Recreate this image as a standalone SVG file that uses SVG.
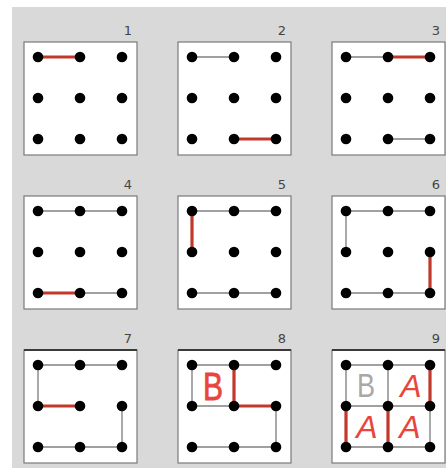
<svg xmlns="http://www.w3.org/2000/svg" xmlns:xlink="http://www.w3.org/1999/xlink" width="446" height="468" viewBox="0 0 446 468">
<style>
.bg{fill:#d9d9d9}
.box{fill:#fff;stroke:#7a7a7a;stroke-width:1.2}
.topdark{stroke:#3a3a3a;stroke-width:2}
.num{font-family:"DejaVu Sans",sans-serif;font-size:13px;fill:#444;text-anchor:end}
.g{stroke:#a0a0a0;stroke-width:1.8;fill:none}
.r{stroke:#c0392b;stroke-width:3.2;fill:none}
.dot{fill:#000}
.ltr{font-family:"Liberation Sans",Arial,sans-serif;text-anchor:middle}
.bred{fill:#e8453c;font-size:39px;stroke:#e8453c;stroke-width:0.8}
.bgray{fill:#a8a8a8;font-size:33px}
.a{fill:#e8453c;font-size:32px;font-style:italic}
</style>
<defs>
<g id="grid">
<circle class="dot" cx="14" cy="15" r="5.3"/><circle class="dot" cx="56" cy="15" r="5.3"/><circle class="dot" cx="98" cy="15" r="5.3"/>
<circle class="dot" cx="14" cy="56" r="5.3"/><circle class="dot" cx="56" cy="56" r="5.3"/><circle class="dot" cx="98" cy="56" r="5.3"/>
<circle class="dot" cx="14" cy="97" r="5.3"/><circle class="dot" cx="56" cy="97" r="5.3"/><circle class="dot" cx="98" cy="97" r="5.3"/>
</g>
</defs>
<rect class="bg" x="12" y="7" width="434" height="461"/>

<g id="panel1" transform="translate(24,42)">
<rect class="box" x="0" y="0" width="113" height="113"/>
<text class="num" x="108" y="-7">1</text>
<g class="edges"><path class="r" d="M14 15H56"/></g>
<use xlink:href="#grid" href="#grid"/>
</g>

<g id="panel2" transform="translate(178,42)">
<rect class="box" x="0" y="0" width="113" height="113"/>
<text class="num" x="108" y="-7">2</text>
<g class="edges"><path class="g" d="M14 15H56"/><path class="r" d="M56 97H98"/></g>
<use xlink:href="#grid" href="#grid"/>
</g>

<g id="panel3" transform="translate(332,42)">
<rect class="box" x="0" y="0" width="113" height="113"/>
<text class="num" x="108" y="-7">3</text>
<g class="edges"><path class="g" d="M14 15H56M56 97H98"/><path class="r" d="M56 15H98"/></g>
<use xlink:href="#grid" href="#grid"/>
</g>

<g id="panel4" transform="translate(24,196)">
<rect class="box" x="0" y="0" width="113" height="113"/>
<text class="num" x="108" y="-7">4</text>
<g class="edges"><path class="g" d="M14 15H98M56 97H98"/><path class="r" d="M14 97H56"/></g>
<use xlink:href="#grid" href="#grid"/>
</g>

<g id="panel5" transform="translate(178,196)">
<rect class="box" x="0" y="0" width="113" height="113"/>
<text class="num" x="108" y="-7">5</text>
<g class="edges"><path class="g" d="M14 15H98M14 97H98"/><path class="r" d="M14 15V56"/></g>
<use xlink:href="#grid" href="#grid"/>
</g>

<g id="panel6" transform="translate(332,196)">
<rect class="box" x="0" y="0" width="113" height="113"/>
<text class="num" x="108" y="-7">6</text>
<g class="edges"><path class="g" d="M14 15H98M14 15V56M14 97H98"/><path class="r" d="M98 56V97"/></g>
<use xlink:href="#grid" href="#grid"/>
</g>

<g id="panel7" transform="translate(24,350)">
<rect class="box" x="0" y="0" width="113" height="113"/>
<line class="topdark" x1="0" y1="0" x2="113" y2="0"/>
<text class="num" x="108" y="-7">7</text>
<g class="edges"><path class="g" d="M14 15H98M14 15V56M14 97H98M98 56V97"/><path class="r" d="M14 56H56"/></g>
<use xlink:href="#grid" href="#grid"/>
</g>

<g id="panel8" transform="translate(178,350)">
<rect class="box" x="0" y="0" width="113" height="113"/>
<line class="topdark" x1="0" y1="0" x2="113" y2="0"/>
<text class="num" x="108" y="-7">8</text>
<text class="ltr bred" transform="translate(35,50) scale(0.77,1)">B</text>
<g class="edges"><path class="g" d="M14 15H98M14 15V56M14 56H56M14 97H98M98 56V97"/><path class="r" d="M56 15V56H98"/></g>
<use xlink:href="#grid" href="#grid"/>
</g>

<g id="panel9" transform="translate(332,350)">
<rect class="box" x="0" y="0" width="113" height="113"/>
<line class="topdark" x1="0" y1="0" x2="113" y2="0"/>
<text class="num" x="108" y="-7">9</text>
<text class="ltr bgray" transform="translate(34,47) scale(0.82,1)">B</text>
<text class="ltr a" x="79" y="47">A</text>
<text class="ltr a" x="35" y="88">A</text>
<text class="ltr a" x="78" y="88">A</text>
<g class="edges"><path class="g" d="M14 15H98M14 15V56M14 56H98M56 15V56M14 97H98M98 56V97"/><path class="r" d="M98 15V56M14 56V97M56 56V97"/></g>
<use xlink:href="#grid" href="#grid"/>
</g>
</svg>
